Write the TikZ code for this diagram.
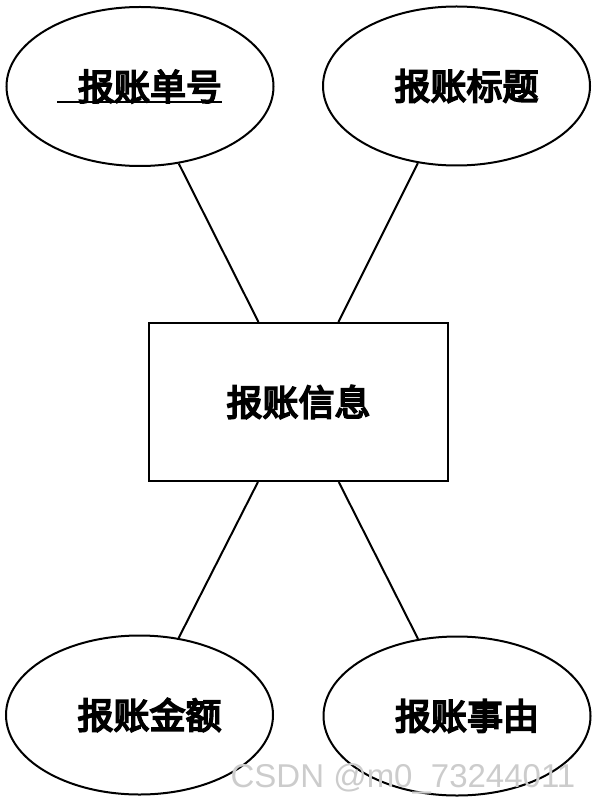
\documentclass[tikz,border=0pt]{standalone}
\usepackage{fontspec}
\newfontfamily\cjk{Noto Sans CJK SC}[RawFeature={embolden=5}]
\newfontfamily\wmfont{Liberation Sans}
\usetikzlibrary{shapes.geometric}
\begin{document}
\begin{tikzpicture}[x=1pt,y=-1pt,
  lbl/.style={font=\cjk\fontsize{36}{36}\selectfont},
  attr/.style={ellipse,draw,line width=2pt,minimum width=267pt,minimum height=159pt,inner sep=0pt,lbl},
  entity/.style={rectangle,draw,line width=2pt,minimum width=299pt,minimum height=158pt,inner sep=0pt,lbl},
  link/.style={line width=2pt},
  uline/.style={line width=2pt},
  wm/.style={font=\wmfont\fontsize{33}{33}\selectfont,text=black!20,anchor=base,inner sep=0pt}]
\useasboundingbox (0,0) rectangle (597,802);
\node[entity] (e) at (298.5,402) {报账信息};
\node[attr] (a1) at (140,86.5) {\hspace{20pt}报账单号};
\node[attr] (a2) at (456.5,86) {\hspace{20pt}报账标题};
\node[attr] (a3) at (139.5,715) {\hspace{20pt}报账金额};
\node[attr] (a4) at (457,716) {\hspace{20pt}报账事由};
\coordinate (u1) at (57,102.5);
\coordinate (u2) at (222,102.5);
\draw[uline] (u1) -- (u2);
\draw[link] (a1) -- (e);
\draw[link] (a2) -- (e);
\draw[link] (a3) -- (e);
\draw[link] (a4) -- (e);
\node[wm] (w) at (403,787) {CSDN @m0\_73244011};
\end{tikzpicture}
\end{document}
